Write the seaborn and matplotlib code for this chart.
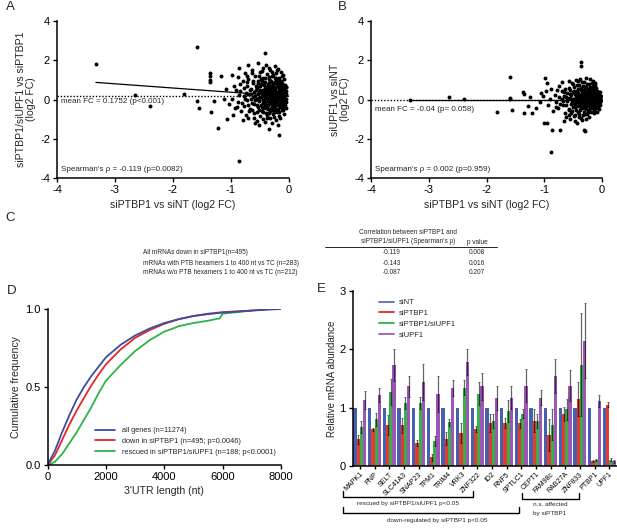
import numpy as np
import pandas as pd
import matplotlib
matplotlib.use("Agg")
import matplotlib.pyplot as plt
import seaborn as sns
from matplotlib.lines import Line2D
from matplotlib.container import BarContainer

# ---------------- data ----------------
# Panel A: siPTBP1 vs siNT (x) against siPTBP1/siUPF1 vs siPTBP1 (y)
a_points = [
    (-3.33, 1.79), (-2.65, 0.24), (-2.39, -0.34), (-1.81, 0.27), (-1.59, 2.66), (-1.58, -0.08),
    (-1.55, -0.42), (-1.37, 1.35), (-1.37, 1.22), (-1.36, 0.98), (-1.36, 0.88), (-1.34, -0.64),
    (-1.29, -0.06), (-1.22, -1.44), (-1.17, 1.20), (-1.07, -1.00), (-0.99, 1.25), (-0.87, -3.12),
    (-0.18, -1.81), (-0.34, -1.52), (-1.12, 0.05), (-1.04, -0.22), (-1.08, 0.55), (-0.96, -0.78),
    (-0.86, 1.60), (-0.70, 1.74), (-0.93, -0.45), (-0.41, 2.38), (-0.58, -1.22), (-0.80, -1.05),
    (-0.54, 1.85), (-0.40, 1.78), (-0.25, 1.72), (-0.44, 1.62), (-0.19, 1.55), (-0.63, 1.52),
    (-0.32, 1.48), (-0.14, 1.42), (-0.76, 1.35), (-0.50, 1.38), (-0.23, 1.33), (-0.38, 1.29),
    (-0.11, 1.25), (-0.88, 1.15), (-0.58, 1.22), (-0.29, 1.18), (-0.17, 1.12), (-0.45, 1.10),
    (-0.70, 1.05), (-0.35, 1.02), (-0.08, 1.06), (-0.22, 0.98), (-0.53, 0.95), (-0.80, 0.92),
    (-0.41, 0.90), (-0.14, 0.88), (-0.28, 0.85), (-0.62, 0.82), (-0.48, 0.78), (-0.19, 0.76),
    (-0.34, 0.72), (-0.07, 0.74), (-0.94, 0.70), (-0.73, 0.68), (-0.55, 0.66), (-0.25, 0.64),
    (-0.42, 0.60), (-0.12, 0.58), (-0.66, 0.55), (-0.30, 0.52), (-0.50, 0.50), (-0.18, 0.48),
    (-0.37, 0.45), (-0.06, 0.44), (-0.84, 0.42), (-0.60, 0.40), (-0.23, 0.38), (-0.45, 0.35),
    (-0.11, 0.33), (-0.32, 0.31), (-0.70, 0.28), (-0.53, 0.26), (-0.16, 0.25), (-0.39, 0.22),
    (-0.27, 0.20), (-0.05, 0.21), (-0.78, 0.16), (-0.62, 0.14), (-0.48, 0.12), (-0.21, 0.13),
    (-0.35, 0.09), (-0.10, 0.08), (-0.98, 0.05), (-0.56, 0.03), (-0.29, 0.02), (-0.43, -0.01),
    (-0.15, 0.00), (-0.72, -0.04), (-0.37, -0.06), (-0.23, -0.08), (-0.07, -0.05), (-0.51, -0.10),
    (-0.88, -0.12), (-0.31, -0.14), (-0.13, -0.16), (-0.64, -0.18), (-0.44, -0.20), (-0.20, -0.22),
    (-0.36, -0.26), (-0.09, -0.28), (-0.56, -0.30), (-0.77, -0.33), (-0.27, -0.34), (-0.47, -0.38),
    (-0.16, -0.40), (-0.05, -0.42), (-0.39, -0.45), (-0.67, -0.47), (-0.24, -0.50), (-0.52, -0.53),
    (-0.12, -0.55), (-0.33, -0.58), (-0.82, -0.60), (-0.44, -0.64), (-0.20, -0.66), (-0.60, -0.70),
    (-0.28, -0.74), (-0.08, -0.72), (-0.38, -0.80), (-0.50, -0.86), (-0.17, -0.84), (-0.71, -0.92),
    (-0.32, -0.95), (-0.23, -1.02), (-0.55, -1.08), (-0.42, -1.15), (-0.29, -1.22), (-0.51, -1.30),
    (-0.19, -1.28), (-0.26, 0.55), (-0.21, 0.30), (-0.33, 0.15), (-0.18, -0.02), (-0.25, -0.25),
    (-0.14, 0.40), (-0.30, 0.70), (-0.10, 0.62), (-0.38, 0.34), (-0.22, 0.82), (-0.16, -0.35),
    (-0.31, -0.42), (-0.12, 0.16), (-0.27, 0.44), (-0.19, 0.67), (-0.35, -0.18), (-0.09, -0.15),
    (-0.24, 0.07), (-0.40, 0.55), (-0.15, 0.51), (-0.28, -0.55), (-0.37, 0.80), (-0.11, -0.45),
    (-0.21, -0.60), (-0.33, 0.96), (-0.06, 0.30), (-0.18, 1.00), (-0.42, 0.18), (-0.13, -0.25),
    (-0.25, 1.08), (-0.20, 0.22), (-0.29, 0.36), (-0.36, 0.62), (-0.45, 0.00), (-0.17, 0.12),
    (-0.28, -0.12), (-0.41, -0.30), (-0.08, 0.52), (-0.52, 0.40), (-0.58, -0.02), (-0.65, 0.30),
    (-0.46, 0.86), (-0.13, 0.95), (-0.34, -0.68), (-0.57, 0.68), (-0.24, 0.28), (-0.31, 0.60),
    (-0.19, -0.48), (-0.40, 0.42), (-0.10, -0.02),
    (-0.62, 0.95), (-0.57, 0.47), (-0.61, -0.22), (-0.59, 0.20), (-0.63, -0.55), (-0.54, 0.84),
    (-0.55, 0.58), (-0.52, 0.10), (-0.53, -0.38), (-0.56, -0.65), (-0.49, 1.02), (-0.50, 0.68),
    (-0.48, 0.36), (-0.51, -0.05), (-0.49, -0.27), (-0.47, -0.58), (-0.46, 0.20), (-0.45, 0.50),
    (-0.47, 0.92), (-0.44, -0.42), (-0.43, 0.72), (-0.42, 0.06), (-0.41, -0.12), (-0.43, 0.28),
    (-0.40, -0.70), (-0.41, 1.12), (-0.39, 0.64), (-0.38, -0.35), (-0.39, 0.12), (-0.37, 0.40),
    (-0.36, -0.02), (-0.35, 0.85), (-0.36, -0.50), (-0.34, 0.26), (-0.35, 0.52), (-0.33, -0.20),
    (-0.34, 1.15), (-0.32, 0.68), (-0.33, -0.05), (-0.31, 0.45), (-0.30, -0.30), (-0.31, 0.92),
    (-0.29, 0.15), (-0.30, 0.25), (-0.28, 0.58), (-0.29, -0.45), (-0.27, 0.05), (-0.28, 1.25),
    (-0.26, -0.15), (-0.27, 0.78), (-0.25, 0.35), (-0.26, -0.62), (-0.24, 0.48), (-0.25, 0.90),
    (-0.23, -0.02), (-0.24, -0.35), (-0.22, 0.62), (-0.23, 0.18), (-0.21, -0.52), (-0.22, 1.12),
    (-0.20, 0.40), (-0.21, 0.02), (-0.19, 0.85), (-0.20, -0.12), (-0.18, 0.30), (-0.19, -0.30),
    (-0.17, 0.58), (-0.18, 0.72), (-0.16, 0.05), (-0.17, -0.62), (-0.15, 0.35), (-0.16, 0.90),
    (-0.14, -0.08), (-0.15, -0.22), (-0.13, 0.68), (-0.14, 0.20), (-0.12, -0.38), (-0.13, 0.45),
    (-0.11, 0.10), (-0.12, 0.82), (-0.10, -0.20), (-0.11, 0.55), (-0.09, 0.38), (-0.10, -0.55),
    (-0.08, 0.12), (-0.09, 0.70), (-0.07, -0.30), (-0.08, 0.25), (-0.06, 0.62), (-0.07, 0.05),
    (-0.66, 0.05), (-0.68, 0.48), (-0.70, -0.30), (-0.72, 0.90), (-0.74, 0.35), (-0.69, -0.60),
    (-0.76, 0.05), (-0.78, 0.60), (-0.73, 1.20), (-0.81, -0.20), (-0.84, 0.80), (-0.86, 0.25),
    (-0.90, -0.40), (-0.92, 0.48), (-0.75, -0.80), (-0.64, 1.35), (-0.46, 1.45), (-0.30, 1.38),
    (-0.21, 1.50), (-0.38, -0.95), (-0.26, -0.88), (-0.45, -1.00), (-0.15, -0.95), (-0.60, -0.95),
    (-0.35, 1.60), (-0.12, 1.20), (-0.52, 1.20), (-0.05, 0.05), (-0.05, 0.62), (-0.06, -0.12),
]
a_mean_fc = 0.1752
a_fit = (-0.215, 0.155)   # slope, intercept

# Panel B: siPTBP1 vs siNT (x) against siUPF1 vs siNT (y)
b_points = [
    (-3.33, -0.03), (-2.65, 0.12), (-2.39, 0.02), (-1.59, 0.03), (-1.59, 1.13), (-1.82, -0.65),
    (-1.55, -0.53), (-1.35, -0.70), (-1.22, -0.70), (-0.89, -2.66), (-0.72, -1.55), (-0.87, -1.57),
    (-0.96, -1.20), (-1.00, -1.19), (-0.32, -1.55), (-0.29, -1.60), (-0.37, 1.93), (-0.37, 1.70),
    (-0.95, 0.82), (-0.98, 1.10), (-1.25, 0.14), (-1.08, -0.11), (-1.37, 0.40), (-1.35, 0.30),
    (-1.59, 0.08), (-1.15, -0.45), (-1.05, 0.35), (-1.28, -0.35),
    (-0.88, 0.55), (-0.82, 0.25), (-0.80, -0.15), (-0.76, -0.45), (-0.74, 0.70), (-0.70, 0.05),
    (-0.68, -0.30), (-0.66, 0.40), (-0.64, -0.70), (-0.62, 0.15), (-0.60, -0.10), (-0.58, 0.60),
    (-0.57, -0.50), (-0.55, 0.30), (-0.53, -0.25), (-0.52, 0.85), (-0.50, 0.02), (-0.49, -0.85),
    (-0.48, 0.45), (-0.47, -0.40), (-0.45, 0.18), (-0.44, -0.12), (-0.43, 0.72), (-0.42, -0.62),
    (-0.41, 0.32), (-0.40, -0.28), (-0.39, 0.05), (-0.38, 1.02), (-0.37, -0.95), (-0.36, 0.50),
    (-0.35, -0.05), (-0.34, 0.22), (-0.33, -0.45), (-0.32, 0.88), (-0.31, -0.20), (-0.30, 0.38),
    (-0.29, -0.75), (-0.28, 0.10), (-0.27, 0.62), (-0.26, -0.35), (-0.25, -0.08), (-0.24, 0.28),
    (-0.23, -0.55), (-0.22, 0.78), (-0.21, 0.00), (-0.20, -0.25), (-0.19, 0.45), (-0.18, -0.12),
    (-0.17, 0.18), (-0.16, -0.42), (-0.15, 0.95), (-0.14, 0.08), (-0.13, -0.30), (-0.12, 0.35),
    (-0.11, -0.05), (-0.10, 0.60), (-0.09, -0.18), (-0.08, 0.22), (-0.07, -0.40), (-0.06, 0.05),
    (-0.05, 0.40), (-0.04, -0.10), (-0.03, 0.15),
    (-0.45, -0.02), (-0.40, 0.12), (-0.35, -0.18), (-0.30, 0.05), (-0.28, -0.15), (-0.25, 0.12),
    (-0.22, -0.30), (-0.20, 0.22), (-0.18, 0.02), (-0.15, -0.15), (-0.12, 0.12), (-0.10, -0.30),
    (-0.08, 0.00), (-0.35, 0.35), (-0.30, -0.38), (-0.26, 0.45), (-0.21, -0.45), (-0.17, 0.55),
    (-0.13, -0.52), (-0.09, 0.30), (-0.42, 0.55), (-0.48, -0.20), (-0.55, 0.10), (-0.60, 0.35),
    (-0.52, -0.60), (-0.38, -0.55), (-0.33, 0.68), (-0.24, -0.65), (-0.16, 0.70), (-0.06, -0.25),
    (-0.62, -0.90), (-0.55, -1.00), (-0.47, -1.08), (-0.40, -0.88), (-0.34, -1.05), (-0.28, -0.98),
    (-0.44, -1.20), (-0.66, -1.10), (-0.22, -0.88), (-0.58, -0.80),
    (-0.28, 1.10), (-0.20, 1.05), (-0.45, 1.00), (-0.12, 0.85), (-0.58, 0.95), (-0.70, 0.90),
    (-1.02, 0.20), (-0.93, -0.30), (-0.90, 0.05), (-0.85, -0.60), (-0.97, 0.45),
    (-0.54, 0.22), (-0.52, -0.12), (-0.50, 0.40), (-0.51, -0.40), (-0.48, 0.05), (-0.49, 0.65),
    (-0.46, -0.28), (-0.47, 0.28), (-0.45, -0.55), (-0.44, 0.42), (-0.43, -0.05), (-0.42, 0.15),
    (-0.41, -0.35), (-0.40, 0.75), (-0.39, -0.18), (-0.38, 0.25), (-0.37, 0.02), (-0.36, -0.45),
    (-0.36, 0.58), (-0.34, -0.12), (-0.33, 0.10), (-0.32, -0.30), (-0.31, 0.48), (-0.30, -0.08),
    (-0.29, 0.22), (-0.28, -0.48), (-0.27, 0.35), (-0.27, 0.00), (-0.26, -0.22), (-0.25, 0.55),
    (-0.24, 0.15), (-0.23, -0.12), (-0.23, 0.40), (-0.22, 0.05), (-0.21, -0.35), (-0.20, 0.65),
    (-0.19, -0.05), (-0.19, 0.30), (-0.18, -0.28), (-0.17, 0.08), (-0.16, 0.42), (-0.15, -0.02),
    (-0.15, 0.20), (-0.14, -0.38), (-0.13, 0.55), (-0.12, -0.15), (-0.11, 0.25), (-0.11, 0.00),
    (-0.10, -0.45), (-0.09, 0.12), (-0.08, 0.45), (-0.08, -0.22), (-0.07, 0.10), (-0.06, 0.35),
    (-0.05, -0.05), (-0.05, 0.25), (-0.04, -0.30), (-0.04, 0.05), (-0.03, -0.15), (-0.03, 0.40),
    (-0.02, 0.00), (-0.02, 0.20), (-0.06, -0.50), (-0.12, 0.72), (-0.18, 0.85), (-0.26, 0.80),
    (-0.34, 0.88), (-0.42, 0.92), (-0.50, 0.80), (-0.56, 0.50), (-0.60, 0.10), (-0.62, -0.30),
    (-0.64, 0.55), (-0.66, 0.20), (-0.68, -0.10), (-0.70, 0.45), (-0.72, -0.25), (-0.75, 0.15),
    (-0.78, 0.50), (-0.80, -0.40), (-0.58, -0.55), (-0.53, -0.70), (-0.46, -0.78), (-0.39, -0.72),
    (-0.33, -0.80), (-0.26, -0.72), (-0.19, -0.65), (-0.13, -0.70), (-0.09, -0.62), (-0.31, -0.62),
    (-0.43, 0.30), (-0.35, 0.15), (-0.29, -0.25), (-0.22, 0.50), (-0.16, -0.20), (-0.10, 0.38),
    (-0.14, 0.12), (-0.24, -0.02), (-0.32, 0.38), (-0.40, -0.08), (-0.47, -0.12), (-0.20, -0.10),
    (-0.12, -0.05), (-0.07, 0.18), (-0.27, 0.18), (-0.37, -0.28), (-0.44, 0.10), (-0.17, 0.32),
    (-0.09, -0.35), (-0.30, 0.62),
]
b_mean_fc = -0.04
b_fit = (0.0, -0.05)

# Panel C table
c_rows = ["All mRNAs down in siPTBP1(n=495)",
          "mRNAs with PTB hexamers 1 to 400 nt vs TC (n=283)",
          "mRNAs w/o PTB hexamers 1 to 400 nt vs TC (n=212)"]
c_rho = ["-0.119", "-0.143", "-0.087"]
c_p = ["0.008", "0.016", "0.207"]

# Panel D: cumulative distributions of 3'UTR length
d_labels = ["all genes (n=11274)", "down in siPTBP1 (n=495; p=0.0046)",
            "rescued in siPTBP1/siUPF1 (n=188; p<0.0001)"]
d_all_x = [0, 250, 500, 750, 1000, 1250, 1500, 1750, 2000, 2500, 3000, 3500, 4000, 4500, 5000, 5500, 6000, 7000, 8000]
d_all_y = [0, 0.09, 0.21, 0.32, 0.42, 0.50, 0.57, 0.63, 0.69, 0.77, 0.83, 0.875, 0.91, 0.935, 0.955, 0.967, 0.977, 0.99, 1.0]
d_down_x = [0, 250, 500, 750, 1000, 1250, 1500, 1750, 2000, 2500, 3000, 3500, 4000, 4500, 5000, 5500, 6000, 7000, 7600]
d_down_y = [0, 0.06, 0.16, 0.26, 0.35, 0.43, 0.51, 0.58, 0.645, 0.74, 0.815, 0.865, 0.905, 0.935, 0.955, 0.97, 0.98, 0.99, 1.0]
d_resc_x = [0, 250, 500, 750, 1000, 1250, 1500, 1750, 2000, 2250, 2500, 3000, 3500, 4000, 4300, 4500, 5000, 5500, 5900, 6000, 7000]
d_resc_y = [0, 0.02, 0.07, 0.14, 0.21, 0.29, 0.37, 0.46, 0.54, 0.59, 0.64, 0.73, 0.80, 0.855, 0.875, 0.89, 0.91, 0.925, 0.94, 0.97, 0.99]

# Panel E: relative mRNA abundance
e_genes = ["MAPK1", "PNP", "SELT", "SLC41A3", "SNAP23", "TPM1", "TRIM4", "VRK3", "ZNF322",
           "ID2", "RNF5", "SPTLC1", "CEPT1", "FAM98c", "RAB27A", "ZNF833", "PTBP1", "UPF1"]
e_conditions = ["siNT", "siPTBP1", "siPTBP1/siUPF1", "siUPF1"]
e_sint = [1.0, 1.0, 1.0, 1.0, 1.0, 1.0, 1.0, 1.0, 1.0, 1.0, 1.0, 1.0, 1.0, 1.0, 1.0, 1.0, 1.0, 1.0]
e_sint_err = [0.0] * 18
e_siptb = [0.46, 0.63, 0.70, 0.70, 0.39, 0.15, 0.47, 0.57, 0.63, 0.74, 0.74, 0.73, 0.78, 0.53, 0.90, 1.15, 0.09, 1.05]
e_siptb_err = [0.08, 0.03, 0.17, 0.13, 0.05, 0.06, 0.11, 0.17, 0.05, 0.15, 0.09, 0.08, 0.19, 0.28, 0.12, 0.29, 0.02, 0.04]
e_double = [0.67, 0.80, 1.27, 1.08, 1.08, 0.43, 0.75, 1.34, 1.24, 0.78, 0.95, 0.90, 0.78, 0.71, 0.97, 1.74, 0.10, 0.11]
e_double_err = [0.11, 0.11, 0.23, 0.11, 0.10, 0.08, 0.06, 0.13, 0.20, 0.12, 0.19, 0.07, 0.12, 0.27, 0.18, 0.89, 0.02, 0.02]
e_siupf = [1.13, 1.21, 1.73, 1.37, 1.44, 1.23, 1.34, 1.78, 1.37, 1.17, 1.17, 1.38, 1.17, 1.55, 1.38, 2.15, 1.12, 0.08]
e_siupf_err = [0.15, 0.12, 0.27, 0.18, 0.31, 0.31, 0.14, 0.22, 0.23, 0.21, 0.20, 0.28, 0.13, 0.29, 0.26, 0.64, 0.10, 0.02]

# ---------------- style ----------------
sns.set_style("ticks")
plt.rcParams["font.family"] = ["Liberation Sans", "DejaVu Sans"]
plt.rcParams["axes.unicode_minus"] = False
plt.rcParams.update({
    "axes.linewidth": 1.1, "axes.edgecolor": "black",
    "xtick.major.width": 1.0, "ytick.major.width": 1.0,
    "xtick.major.size": 3.0, "ytick.major.size": 3.0,
    "xtick.color": "black", "ytick.color": "black",
    "xtick.major.pad": 2, "ytick.major.pad": 2,
})

W, H = 617, 531
fig = plt.figure(figsize=(W / 100, H / 100), dpi=100)


def px_axes(l, t, r, b):
    return fig.add_axes([l / W, 1 - b / H, (r - l) / W, (b - t) / H])


def fx(x):
    return x / W


def fy(y):
    return 1 - y / H


def scatter_panel(ax, pts, mean_fc, fit, ylab, mean_txt, rho_txt, mean_y):
    xs = np.array([p[0] for p in pts])
    ys = np.array([p[1] for p in pts])
    sns.scatterplot(x=xs, y=ys, color="black", s=8, linewidth=0, ax=ax)
    ax.axhline(mean_fc, ls=(0, (1, 1.3)), color="black", lw=1.0)
    lx = np.array([xs.min(), xs.max()])
    ax.plot(lx, fit[0] * lx + fit[1], color="black", lw=0.9)
    ax.set_xlim(-4, 0)
    ax.set_ylim(-4, 4)
    ax.set_xticks([-4, -3, -2, -1, 0])
    ax.set_yticks([-4, -2, 0, 2, 4])
    ax.tick_params(labelsize=8)
    ax.set_xlabel("siPTBP1 vs siNT (log2 FC)", fontsize=7.6, labelpad=4)
    ax.set_ylabel(ylab, fontsize=7.6, labelpad=3, linespacing=1.0)
    ax.text(-3.93, mean_y, mean_txt, fontsize=5.8, va="center", ha="left")
    ax.text(-3.93, -3.55, rho_txt, fontsize=5.8, va="center", ha="left")
    sns.despine(ax=ax)


# Panel A
axA = px_axes(57, 21, 289, 178)
scatter_panel(axA, a_points, a_mean_fc, a_fit, "siPTBP1/siUPF1 vs siPTBP1\n(log2 FC)",
              "mean FC = 0.1752 (p<0.001)", "Spearman's ρ = -0.119 (p=0.0082)", -0.12)
# Panel B
axB = px_axes(371, 21, 602, 178)
scatter_panel(axB, b_points, b_mean_fc, b_fit, "siUPF1 vs siNT\n(log2 FC)",
              "mean FC = -0.04 (p= 0.058)", "Spearman's ρ = 0.002 (p=0.959)", -0.51)

# Panel C (table as text)
fs_c = 4.7
fig.text(fx(408), fy(232.5), "Correlation between siPTBP1 and", fontsize=fs_c, ha="center", va="center")
fig.text(fx(408), fy(241), "siPTBP1/siUPF1 (Spearman's ρ)", fontsize=fs_c, ha="center", va="center")
fig.text(fx(477), fy(242), "p value", fontsize=fs_c, ha="center", va="center")
fig.add_artist(Line2D([fx(325), fx(497)], [fy(247), fy(247)], transform=fig.transFigure,
                      color="black", lw=0.6))
for i, (lab, r, p) in enumerate(zip(c_rows, c_rho, c_p)):
    yy = 253 + 10 * i
    fig.text(fx(143), fy(yy), lab, fontsize=fs_c, ha="left", va="center")
    fig.text(fx(392), fy(yy), r, fontsize=fs_c, ha="center", va="center")
    fig.text(fx(477), fy(yy), p, fontsize=fs_c, ha="center", va="center")

# Panel D
axD = px_axes(47.5, 309, 281, 465)
d_colors = ["#3b4ea3", "#e5262b", "#2db34a"]
dfD = pd.concat([
    pd.DataFrame({"utr": d_all_x, "cdf": d_all_y, "group": d_labels[0]}),
    pd.DataFrame({"utr": d_down_x, "cdf": d_down_y, "group": d_labels[1]}),
    pd.DataFrame({"utr": d_resc_x, "cdf": d_resc_y, "group": d_labels[2]}),
])
sns.lineplot(data=dfD, x="utr", y="cdf", hue="group", hue_order=d_labels[::-1],
             palette=dict(zip(d_labels, d_colors)), estimator=None, sort=False,
             lw=1.3, ax=axD, legend=False)
axD.set_xlim(0, 8000)
axD.set_ylim(0, 1.0)
axD.set_xticks([0, 2000, 4000, 6000, 8000])
axD.set_yticks([0.0, 0.5, 1.0])
axD.set_yticklabels(["0.0", "0.5", "1.0"])
axD.tick_params(labelsize=8)
axD.set_xlabel("3'UTR length (nt)", fontsize=7.6, labelpad=3)
axD.set_ylabel("Cumulative frequency", fontsize=7.6, labelpad=3)
sns.despine(ax=axD)
handles = [Line2D([], [], color=c, lw=1.3) for c in d_colors]
axD.legend(handles, d_labels, loc="upper left", bbox_to_anchor=(fx(95), fy(427)),
           bbox_transform=fig.transFigure, frameon=False, fontsize=5.3,
           handlelength=2.7, handletextpad=0.9, labelspacing=0.5, borderpad=0, borderaxespad=0)

# Panel E
axE = px_axes(352.5, 291, 616.5, 466)
e_colors = ["#4760ae", "#e53a2e", "#39ae4a", "#9b57b3"]
e_vals = [e_sint, e_siptb, e_double, e_siupf]
e_errs = [e_sint_err, e_siptb_err, e_double_err, e_siupf_err]
dfE = pd.concat([pd.DataFrame({"gene": e_genes, "value": v, "cond": c})
                 for v, c in zip(e_vals, e_conditions)])
sns.barplot(data=dfE, x="gene", y="value", hue="cond", hue_order=e_conditions, order=e_genes,
            palette=dict(zip(e_conditions, e_colors)), errorbar=None, width=0.9,
            saturation=1, linewidth=0, ax=axE, legend=False)
bar_conts = [c for c in axE.containers if isinstance(c, BarContainer)]
for j, cont in enumerate(bar_conts):
    if j == 0:
        continue
    for i, bar in enumerate(cont):
        cx = bar.get_x() + bar.get_width() / 2
        axE.errorbar(cx, e_vals[j][i], yerr=e_errs[j][i], color="black", alpha=0.6, lw=0.9,
                     capsize=0.8, capthick=0.6, zorder=5)
axE.set_xlim(-0.5, len(e_genes) - 0.5)
axE.set_ylim(0, 3)
axE.set_yticks([0, 1, 2, 3])
axE.tick_params(axis="y", labelsize=8)
axE.tick_params(axis="x", labelsize=5, length=2.5, pad=1)
plt.setp(axE.get_xticklabels(), rotation=45, ha="right", rotation_mode="anchor")
axE.set_xlabel("")
axE.set_ylabel("Relative mRNA abundance", fontsize=7, labelpad=2)
sns.despine(ax=axE)
handlesE = [Line2D([], [], color=c, lw=1.3) for c in ["#5a6db5", "#e3262b", "#2bb24c", "#9b5db3"]]
axE.legend(handlesE, e_conditions, loc="upper left", bbox_to_anchor=(fx(379), fy(299)),
           bbox_transform=fig.transFigure, frameon=False, fontsize=5.5,
           handlelength=2.0, handletextpad=0.6, labelspacing=0.45, borderpad=0, borderaxespad=0)


def bracket(x0, x1, y, h):
    fig.add_artist(Line2D([fx(x0), fx(x0), fx(x1), fx(x1)], [fy(y - h), fy(y), fy(y), fy(y - h)],
                          transform=fig.transFigure, color="black", lw=1.0))


bracket(342.7, 473.3, 496.5, 6)
fig.text(fx(408), fy(503.5), "rescued by siPTBP1/siUPF1 p<0.05", fontsize=4.6, ha="center", va="center")
bracket(342.7, 519, 513, 6)
fig.text(fx(437), fy(520.5), "down-regulated by siPTBP1 p<0.05", fontsize=4.6, ha="center", va="center")
bracket(522, 579, 499, 6)
fig.text(fx(550), fy(505), "n.s. affected", fontsize=4.6, ha="center", va="center")
fig.text(fx(550), fy(514), "by siPTBP1", fontsize=4.6, ha="center", va="center")

# Panel letters
for lab, x, y in [("A", 10, 7), ("B", 342, 7), ("C", 10, 218), ("D", 12, 291), ("E", 321, 289)]:
    fig.text(fx(x), fy(y), lab, fontsize=9.5, ha="center", va="center")

fig.savefig("out.png", dpi=100)
